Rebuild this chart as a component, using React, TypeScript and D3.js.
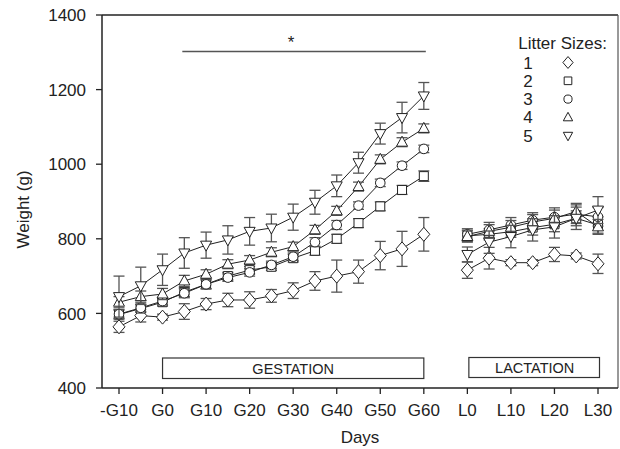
import React from 'react';
import * as d3 from 'd3';

// days: -10..60 gestation, 70..100 = lactation L0..L30
const gestDays = [-10, -5, 0, 5, 10, 15, 20, 25, 30, 35, 40, 45, 50, 55, 60];
const lactDays = [70, 75, 80, 85, 90, 95, 100];

const tickValues = [-10, 0, 10, 20, 30, 40, 50, 60, 70, 80, 90, 100];
const tickLabels = ['-G10', 'G0', 'G10', 'G20', 'G30', 'G40', 'G50', 'G60', 'L0', 'L10', 'L20', 'L30'];
const yTicks = [400, 600, 800, 1000, 1200, 1400];

const litterSizes = ['1', '2', '3', '4', '5'];
const shapes = ['diamond', 'square', 'circle', 'up', 'down'];

// mean weights (g), gestation then lactation
const gest1 = [564, 594, 590, 605, 625, 636, 636, 647, 661, 687, 700, 712, 755, 773, 812];
const gestErr1 = [15, 17, 8, 21, 15, 18, 22, 17, 21, 25, 43, 31, 38, 47, 45];
const lact1 = [716, 748, 736, 736, 758, 754, 733];
const lactErr1 = [22, 29, 8, 8, 19, 8, 26];

const gest2 = [597, 613, 630, 657, 678, 700, 716, 725, 748, 768, 800, 842, 887, 931, 968];
const gestErr2 = [12, 10, 10, 12, 12, 10, 10, 10, 10, 12, 12, 12, 12, 12, 14];
const lact2 = [808, 812, 819, 830, 839, 855, 837];
const lactErr2 = [15, 15, 15, 20, 20, 20, 22];

const gest3 = [598, 615, 633, 654, 678, 696, 710, 730, 752, 791, 837, 889, 950, 996, 1041];
const gestErr3 = [12, 10, 10, 12, 12, 10, 10, 10, 10, 12, 12, 10, 10, 10, 10];
const lact3 = [812, 824, 837, 850, 858, 866, 859];
const lactErr3 = [15, 20, 20, 20, 25, 25, 25];

const gest4 = [630, 645, 652, 687, 705, 732, 743, 764, 779, 824, 875, 940, 1013, 1059, 1096];
const gestErr4 = [15, 15, 15, 15, 12, 12, 12, 12, 12, 12, 12, 12, 12, 12, 12];
const lact4 = [806, 820, 831, 845, 855, 873, 832];
const lactErr4 = [15, 18, 18, 20, 22, 22, 20];

const gest5 = [645, 674, 717, 762, 783, 797, 820, 829, 858, 898, 942, 1004, 1082, 1125, 1183];
const gestErr5 = [55, 50, 42, 41, 35, 38, 37, 37, 35, 32, 29, 28, 28, 41, 36];
const lact5 = [758, 791, 806, 824, 832, 855, 877];
const lactErr5 = [20, 30, 30, 30, 30, 30, 36];

const series = [
  { gest: gest1, gErr: gestErr1, lact: lact1, lErr: lactErr1 },
  { gest: gest2, gErr: gestErr2, lact: lact2, lErr: lactErr2 },
  { gest: gest3, gErr: gestErr3, lact: lact3, lErr: lactErr3 },
  { gest: gest4, gErr: gestErr4, lact: lact4, lErr: lactErr4 },
  { gest: gest5, gErr: gestErr5, lact: lact5, lErr: lactErr5 },
];

const font = '"Liberation Sans", Arial, sans-serif';
const left = 102;
const right = 618;
const top = 15;
const bottom = 388;

const x = d3.scaleLinear().domain([-10, 100]).range([119, 598]);
const y = d3.scaleLinear().domain([400, 1400]).range([bottom, top]);

// marker path centred on 0,0
function markerPath(shape: string, s = 1) {
  const p = d3.path();
  if (shape === 'diamond') {
    p.moveTo(0, -7 * s); p.lineTo(6 * s, 0); p.lineTo(0, 7 * s); p.lineTo(-6 * s, 0); p.closePath();
  } else if (shape === 'square') {
    p.rect(-4.5 * s, -4.5 * s, 9 * s, 9 * s);
  } else if (shape === 'circle') {
    p.arc(0, 0, 4.8 * s, 0, 2 * Math.PI);
  } else if (shape === 'up') {
    p.moveTo(0, -6 * s); p.lineTo(5.5 * s, 4 * s); p.lineTo(-5.5 * s, 4 * s); p.closePath();
  } else {
    p.moveTo(0, 6 * s); p.lineTo(5.5 * s, -4 * s); p.lineTo(-5.5 * s, -4 * s); p.closePath();
  }
  return p.toString();
}

const Segment = ({ days, vals, errs, shape }) => {
  const pts = days.map((d, i) => [x(d), y(vals[i])] as [number, number]);
  const line = d3.line();
  return (
    <g>
      <path d={line(pts) || ''} fill="none" stroke="#222" strokeWidth={1} />
      {days.map((d, i) => {
        const cx = x(d);
        const y1 = y(vals[i] + errs[i]);
        const y2 = y(vals[i] - errs[i]);
        return (
          <g key={'e' + i} stroke="#555" strokeWidth={1.3}>
            <line x1={cx} x2={cx} y1={y1} y2={y2} />
            <line x1={cx - 5.5} x2={cx + 5.5} y1={y1} y2={y1} />
            <line x1={cx - 5.5} x2={cx + 5.5} y1={y2} y2={y2} />
          </g>
        );
      })}
      {days.map((d, i) => (
        <path
          key={'m' + i}
          d={markerPath(shape)}
          transform={`translate(${x(d)},${y(vals[i])})`}
          fill="#fff"
          stroke="#222"
          strokeWidth={1}
        />
      ))}
    </g>
  );
};

export default function App() {
  return (
    <svg
      width={620}
      height={449}
      style={{ position: 'absolute', left: 0, top: 0, background: '#fff' }}
      fontFamily={font}
    >
      {/* frame */}
      <line x1={left} x2={right} y1={top} y2={top} stroke="#222" strokeWidth={1.5} />
      <line x1={right} x2={right} y1={top} y2={bottom} stroke="#555" strokeWidth={1.2} />
      <line x1={left} x2={left} y1={top} y2={bottom} stroke="#222" strokeWidth={1.5} />
      <line x1={left} x2={right} y1={bottom} y2={bottom} stroke="#222" strokeWidth={1.5} />

      {/* y axis */}
      {yTicks.map((t) => (
        <g key={t}>
          <line x1={left - 6} x2={left} y1={y(t)} y2={y(t)} stroke="#222" strokeWidth={1.3} />
          <text x={86} y={y(t)} dy="0.36em" textAnchor="end" fontSize={17} fill="#222">
            {t}
          </text>
        </g>
      ))}
      <text
        transform={`translate(29,${(top + bottom) / 2 + 8}) rotate(-90)`}
        textAnchor="middle"
        fontSize={17}
        fill="#222"
      >
        Weight (g)
      </text>

      {/* x axis */}
      {tickValues.map((t, i) => (
        <g key={t}>
          <line x1={x(t)} x2={x(t)} y1={bottom} y2={bottom + 6} stroke="#222" strokeWidth={1.3} />
          <text x={x(t)} y={416} textAnchor="middle" fontSize={17} fill="#222">
            {tickLabels[i]}
          </text>
        </g>
      ))}
      <text x={(left + right) / 2} y={443} textAnchor="middle" fontSize={17} fill="#222">
        Days
      </text>

      {/* phase boxes */}
      <rect x={x(0)} y={358} width={x(60) - x(0)} height={20.5} fill="#fff" stroke="#333" strokeWidth={1.2} />
      <text x={(x(0) + x(60)) / 2} y={368.5} dy="0.36em" textAnchor="middle" fontSize={14.5} fill="#222">
        GESTATION
      </text>
      <rect x={x(70) + 1.5} y={357.5} width={x(100) - x(70)} height={20} fill="#fff" stroke="#333" strokeWidth={1.2} />
      <text x={(x(70) + x(100)) / 2 + 2} y={367.5} dy="0.36em" textAnchor="middle" fontSize={14.5} fill="#222">
        LACTATION
      </text>

      {/* significance bar */}
      <line x1={x(5) - 2} x2={x(60) + 2} y1={51.5} y2={51.5} stroke="#555" strokeWidth={1.4} />
      <text x={x(29.5)} y={48} textAnchor="middle" fontSize={17} fill="#222">
        *
      </text>

      {/* data */}
      {series.map((s, i) => (
        <g key={i}>
          <Segment days={gestDays} vals={s.gest} errs={s.gErr} shape={shapes[i]} />
          <Segment days={lactDays} vals={s.lact} errs={s.lErr} shape={shapes[i]} />
        </g>
      ))}

      {/* legend */}
      <text x={607} y={49} textAnchor="end" fontSize={17} fill="#222">
        Litter Sizes:
      </text>
      {litterSizes.map((l, i) => (
        <g key={l}>
          <text x={528} y={68.5 + i * 18.3} textAnchor="middle" fontSize={17} fill="#222">
            {l}
          </text>
          <path
            d={markerPath(shapes[i], 0.85)}
            transform={`translate(568,${62.5 + i * 18.3})`}
            fill="#fff"
            stroke="#222"
            strokeWidth={1}
          />
        </g>
      ))}
    </svg>
  );
}
